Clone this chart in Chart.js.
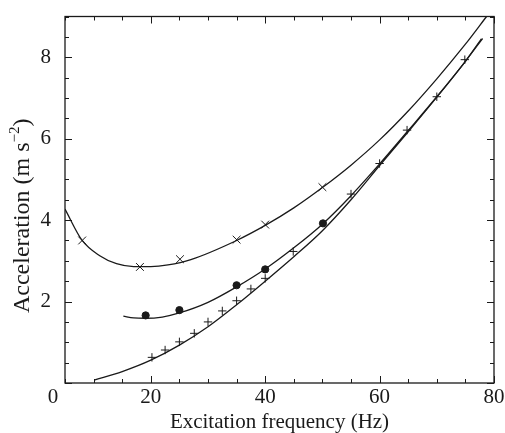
<!DOCTYPE html>
<html>
<head>
<meta charset="utf-8">
<script src="https://cdn.jsdelivr.net/npm/chart.js@4"></script>
<style>
  body { margin: 0; background: #fff; }
  #wrap { width: 505px; height: 433px; }
</style>
</head>
<body>
<div id="wrap"><canvas id="chart" width="505" height="433"></canvas></div>
<script>
// fitted curves
const upperCurveX = [5, 8, 11, 14, 17, 20, 23, 27, 35, 40, 45, 50, 55, 60, 65, 70, 75, 78.7];
const upperCurveY = [4.27, 3.5, 3.13, 2.93, 2.86, 2.86, 2.9, 3.03, 3.5, 3.87, 4.3, 4.8, 5.35, 5.97, 6.68, 7.47, 8.32, 9.0];
const middleCurveX = [15.2, 17, 19, 22, 25, 30, 35, 40, 45, 50, 55, 60, 65, 70, 75, 78];
const middleCurveY = [1.64, 1.6, 1.59, 1.62, 1.72, 1.98, 2.36, 2.8, 3.32, 3.9, 4.6, 5.38, 6.2, 7.03, 7.9, 8.46];
const lowerCurveX = [10.1, 15, 20, 25, 30, 35, 40, 45, 50, 55, 60, 65, 70, 75, 77.8];
const lowerCurveY = [0.07, 0.28, 0.56, 0.93, 1.38, 1.92, 2.5, 3.1, 3.74, 4.5, 5.34, 6.17, 7.02, 7.9, 8.45];

// measured points
const crossX = [8, 18.1, 25.1, 35, 40, 50];
const crossY = [3.5, 2.85, 3.04, 3.52, 3.89, 4.81];
const dotX = [19.1, 25, 35, 40, 50.1];
const dotY = [1.66, 1.79, 2.4, 2.79, 3.92];
const plusX = [20.2, 22.5, 25, 27.6, 30, 32.5, 35, 37.5, 40, 44.9, 55, 60, 64.8, 70, 74.9];
const plusY = [0.63, 0.81, 1.01, 1.22, 1.5, 1.77, 2.02, 2.31, 2.57, 3.23, 4.64, 5.39, 6.21, 7.03, 7.94];

const xTickLabels = [20, 40, 60, 80];
const yTickLabels = [2, 4, 6, 8];

const ink = '#1a1a1a';
const serif = '"Liberation Serif", "Times New Roman", serif';

function pts(xs, ys) {
  return xs.map(function (x, i) { return { x: x, y: ys[i] }; });
}

function curve(xs, ys) {
  return {
    type: 'line',
    data: pts(xs, ys),
    borderColor: ink,
    borderWidth: 1.3,
    pointRadius: 0,
    cubicInterpolationMode: 'monotone',
    fill: false
  };
}

function markers(xs, ys, style, r) {
  return {
    type: 'scatter',
    data: pts(xs, ys),
    pointStyle: style,
    pointRadius: r,
    borderColor: ink,
    backgroundColor: ink,
    borderWidth: 1
  };
}

// box, inward ticks, corner "0" and the y title with its superscript
const frameAndTicks = {
  id: 'frameAndTicks',
  afterDraw: function (chart) {
    var ctx = chart.ctx;
    var a = chart.chartArea;
    var xs = chart.scales.x, ys = chart.scales.y;
    ctx.save();
    ctx.strokeStyle = ink;
    ctx.lineWidth = 1.3;
    ctx.strokeRect(a.left, a.top, a.right - a.left, a.bottom - a.top);

    ctx.lineWidth = 1;
    ctx.beginPath();
    xs.ticks.forEach(function (t) {
      var px = Math.round(xs.getPixelForValue(t.value)) + 0.5;
      var len = t.value % 20 === 0 ? 7 : 4;
      ctx.moveTo(px, a.bottom); ctx.lineTo(px, a.bottom - len);
      ctx.moveTo(px, a.top); ctx.lineTo(px, a.top + len);
    });
    ys.ticks.forEach(function (t) {
      var py = Math.round(ys.getPixelForValue(t.value)) + 0.5;
      var len = t.value % 2 === 0 ? 7 : 4;
      ctx.moveTo(a.left, py); ctx.lineTo(a.left + len, py);
      ctx.moveTo(a.right, py); ctx.lineTo(a.right - len, py);
    });
    ctx.stroke();

    ctx.fillStyle = ink;
    ctx.font = '21px ' + serif;
    ctx.textAlign = 'center';
    ctx.textBaseline = 'middle';
    ctx.fillText('0', a.left - 12, a.bottom + 14);

    // y title
    var main = 'Acceleration (m s';
    var sup = '\u22122';
    var tail = ')';
    var bigFont = '24px ' + serif, smallFont = '15px ' + serif;
    ctx.font = bigFont;
    var w1 = ctx.measureText(main).width;
    var w3 = ctx.measureText(tail).width;
    ctx.font = smallFont;
    var w2 = ctx.measureText(sup).width;
    var total = w1 + w2 + w3;
    ctx.translate(a.left - 43, (a.top + a.bottom) / 2 + 16);
    ctx.rotate(-Math.PI / 2);
    ctx.textAlign = 'left';
    ctx.textBaseline = 'alphabetic';
    var x0 = -total / 2, base = 7;
    ctx.font = bigFont;
    ctx.fillText(main, x0, base);
    ctx.font = smallFont;
    ctx.fillText(sup, x0 + w1, base - 10);
    ctx.font = bigFont;
    ctx.fillText(tail, x0 + w1 + w2, base);
    ctx.restore();
  }
};

new Chart(document.getElementById('chart'), {
  data: {
    datasets: [
      curve(upperCurveX, upperCurveY),
      curve(middleCurveX, middleCurveY),
      curve(lowerCurveX, lowerCurveY),
      markers(crossX, crossY, 'crossRot', 5.5),
      markers(dotX, dotY, 'circle', 3.6),
      markers(plusX, plusY, 'cross', 4.2)
    ]
  },
  options: {
    responsive: false,
    animation: false,
    layout: { padding: { left: 0, right: 11, top: 7, bottom: 0 } },
    plugins: { legend: { display: false }, tooltip: { enabled: false } },
    scales: {
      x: {
        type: 'linear',
        min: 5,
        max: 80,
        afterFit: function (scale) { scale.height = 50; },
        grid: { display: false },
        border: { display: false },
        ticks: {
          stepSize: 5,
          padding: -4,
          color: ink,
          font: { family: serif, size: 21, lineHeight: 1 },
          maxRotation: 0,
          autoSkip: false,
          callback: function (v) { return xTickLabels.indexOf(v) >= 0 ? String(v) : ''; }
        },
        title: {
          display: true,
          text: 'Excitation frequency (Hz)',
          color: ink,
          font: { family: serif, size: 21, lineHeight: 1 },
          padding: { top: 0, bottom: 0 }
        }
      },
      y: {
        type: 'linear',
        min: 0,
        max: 9,
        afterFit: function (scale) { scale.width = 65; },
        grid: { display: false },
        border: { display: false },
        ticks: {
          stepSize: 0.5,
          padding: 6,
          color: ink,
          font: { family: serif, size: 21, lineHeight: 1 },
          autoSkip: false,
          callback: function (v) { return yTickLabels.indexOf(v) >= 0 ? String(v) : ''; }
        }
      }
    }
  },
  plugins: [frameAndTicks]
});
</script>
</body>
</html>
